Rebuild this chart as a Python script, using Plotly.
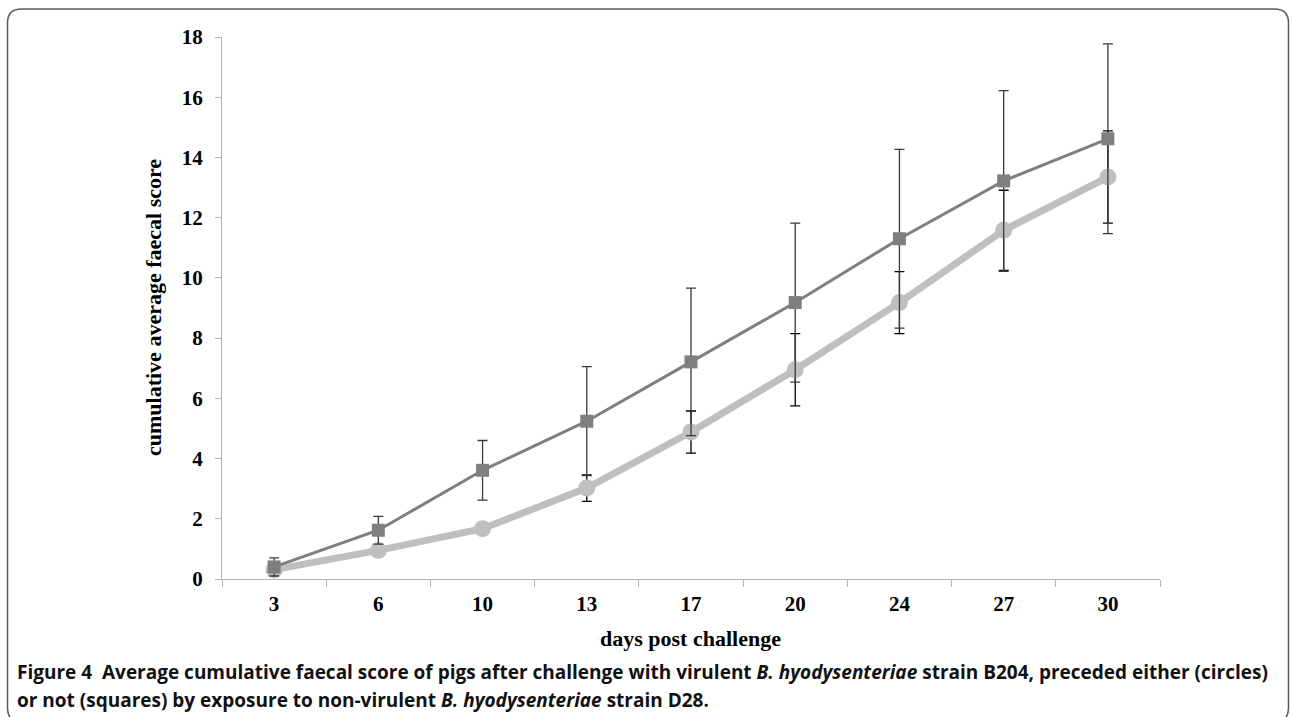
import plotly.graph_objects as go

# ---- data ----
days = ["3", "6", "10", "13", "17", "20", "24", "27", "30"]
squares = [0.40, 1.62, 3.61, 5.24, 7.21, 9.18, 11.30, 13.22, 14.62]
squares_err = [0.30, 0.46, 0.99, 1.81, 2.45, 2.64, 2.97, 3.00, 3.15]
circles = [0.31, 0.95, 1.67, 3.02, 4.88, 6.95, 9.18, 11.58, 13.35]
circles_err = [0.08, 0.12, 0.15, 0.44, 0.70, 1.20, 1.03, 1.33, 1.53]
y_ticks = [0, 2, 4, 6, 8, 10, 12, 14, 16, 18]

y_title = "cumulative average faecal score"
x_title = "days post challenge"
caption1 = ("<b>Figure 4  Average cumulative faecal score of pigs after challenge with virulent "
            "<i>B. hyodysenteriae</i> strain B204, preceded either (circles)</b>")
caption2 = ("<b>or not (squares) by exposure to non-virulent <i>B. hyodysenteriae</i> strain D28.</b>")

# ---- layout geometry (pixels) ----
FW, FH = 1292, 717
L, R, T, B = 222, 1160, 37, 579
PW, PH = R - L, B - T


def px(x):
    return (x - L) / PW


def py(y):
    return (B - y) / PH


fig = go.Figure()

fig.add_trace(go.Scatter(
    x=days, y=circles, mode="lines+markers", name="circles",
    line=dict(color="#bfbfbf", width=7),
    marker=dict(symbol="circle", size=17, color="#bfbfbf"),
    error_y=dict(type="data", array=circles_err, visible=True,
                 color="#000000", thickness=1.3, width=5),
    showlegend=False,
))
fig.add_trace(go.Scatter(
    x=days, y=squares, mode="lines+markers", name="squares",
    line=dict(color="#7f7f7f", width=3),
    marker=dict(symbol="square", size=13, color="#7f7f7f"),
    error_y=dict(type="data", array=squares_err, visible=True,
                 color="#3a3a3a", thickness=1.3, width=5),
    showlegend=False,
))

serif = "Liberation Serif, Times New Roman, serif"

fig.update_xaxes(
    type="category", range=[-0.5, len(days) - 0.5],
    showline=True, linecolor="#b3b3b3", linewidth=1.3,
    ticks="outside", tickson="boundaries", ticklen=7, tickcolor="#b3b3b3", tickwidth=1.3,
    showgrid=False, zeroline=False,
    tickfont=dict(family=serif, size=21, color="#000", weight="bold"),
    ticklabelstandoff=6,
)
fig.update_yaxes(
    range=[0, 18], tickvals=y_ticks,
    showline=True, linecolor="#b3b3b3", linewidth=1.3,
    ticks="outside", ticklen=6, tickcolor="#b3b3b3", tickwidth=1.3,
    showgrid=False, zeroline=False,
    tickfont=dict(family=serif, size=21, color="#000", weight="bold"),
    ticklabelstandoff=8,
)

annotations = [
    dict(text="<b>%s</b>" % y_title, x=px(153), y=py(308), xref="paper", yref="paper",
         textangle=-90, showarrow=False, xanchor="center", yanchor="middle",
         font=dict(family=serif, size=22, color="#000")),
    dict(text="<b>%s</b>" % x_title, x=px(690), y=py(638), xref="paper", yref="paper",
         showarrow=False, xanchor="center", yanchor="middle",
         font=dict(family=serif, size=22, color="#000")),
    dict(text=caption1, x=px(15), y=py(672), xref="paper", yref="paper",
         showarrow=False, xanchor="left", yanchor="middle",
         font=dict(family="Open Sans, sans-serif", size=19, color="#111")),
    dict(text=caption2, x=px(15), y=py(700), xref="paper", yref="paper",
         showarrow=False, xanchor="left", yanchor="middle",
         font=dict(family="Open Sans, sans-serif", size=19, color="#111")),
]

# rounded frame around the figure
x0, x1, y0, y1, r = 7.5, 1288.5, 9, 722, 14
path = (f"M {px(x0)} {py(y0 + r)} "
        f"Q {px(x0)} {py(y0)} {px(x0 + r)} {py(y0)} "
        f"L {px(x1 - r)} {py(y0)} "
        f"Q {px(x1)} {py(y0)} {px(x1)} {py(y0 + r)} "
        f"L {px(x1)} {py(y1 - r)} "
        f"Q {px(x1)} {py(y1)} {px(x1 - r)} {py(y1)} "
        f"L {px(x0 + r)} {py(y1)} "
        f"Q {px(x0)} {py(y1)} {px(x0)} {py(y1 - r)} Z")

fig.update_layout(
    width=FW, height=FH,
    margin=dict(l=L, r=FW - R, t=T, b=FH - B, autoexpand=False),
    paper_bgcolor="white", plot_bgcolor="white",
    annotations=annotations,
    shapes=[dict(type="path", path=path, xref="paper", yref="paper",
                 line=dict(color="#5a5a5a", width=1.5), layer="below")],
)

fig.write_html("out.html", post_script="document.body.style.margin='0';",
               config={"displayModeBar": False})
